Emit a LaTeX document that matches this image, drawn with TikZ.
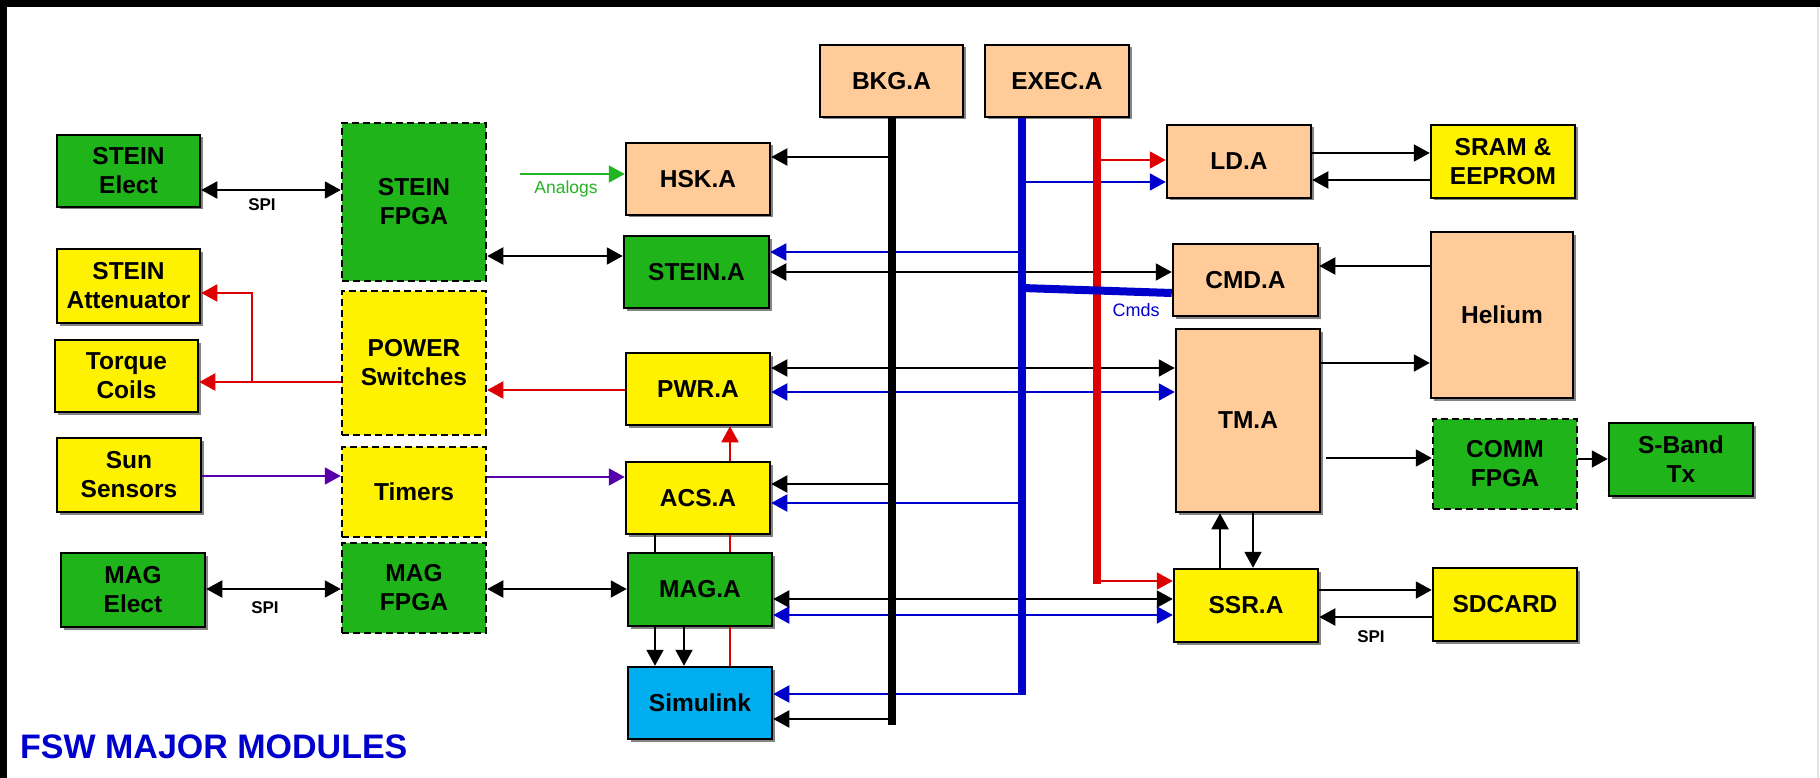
\documentclass[tikz,border=0pt]{standalone}
\usepackage{fontspec}
\setmainfont{Liberation Sans}
\usetikzlibrary{arrows.meta,shadows}
\definecolor{cgreen}{HTML}{1FB51A}
\definecolor{cyellow}{HTML}{FFF200}
\definecolor{cpeach}{HTML}{FFCC99}
\definecolor{ccyan}{HTML}{00ADEF}
\definecolor{cblue}{HTML}{0000CC}
\definecolor{cred}{HTML}{DD0000}
\definecolor{cpurple}{HTML}{5500AA}
\definecolor{agreen}{HTML}{22B422}
\begin{document}
\begin{tikzpicture}[x=1pt,y=-1pt,
  mod/.style={draw=black, line width=2.5pt, minimum width=144pt, minimum height=72pt, inner sep=0pt, align=center, font=\bfseries\fontsize{24.5}{29}\selectfont, text=black},
  sh/.style={drop shadow={shadow xshift=2.5pt, shadow yshift=-2.5pt, fill=black!60, opacity=0.8}},
  dsh/.style={dash pattern=on 7pt off 4pt},
  arr/.style={line width=2pt, -{Triangle[length=16pt,width=17pt]}},
  darr/.style={line width=2pt, {Triangle[length=16pt,width=17pt]}-{Triangle[length=16pt,width=17pt]}},
  plain/.style={line width=2pt},
  bus/.style={line width=8pt},
  lbl/.style={font=\bfseries\fontsize{17}{19}\selectfont, anchor=base}
]
\useasboundingbox (0,0) rectangle (1820,778);
\fill[white] (0,0) rectangle (1820,778);
\fill[black] (0,0) rectangle (1820,7);
\fill[black] (0,0) rectangle (7,778);
\draw[black!10, line width=1.5pt] (1818,7) -- (1818,778);

% left column
\node[mod, sh, fill=cgreen, minimum width=143pt] (steinelect) at (128.5,171) {STEIN\\Elect};
\node[mod, sh, fill=cyellow, minimum width=143pt, minimum height=74pt] (steinatt) at (128.5,286) {STEIN\\Attenuator};
\node[mod, sh, fill=cyellow, minimum width=143pt] (torque) at (126.5,376) {Torque\\Coils};
\node[mod, sh, fill=cyellow, minimum height=74pt] (sun) at (129,475) {Sun\\Sensors};
\node[mod, sh, fill=cgreen, minimum height=74pt] (magelect) at (133,590) {MAG\\Elect};

% FPGA column
\node[mod, dsh, fill=cgreen, minimum height=158pt] (steinfpga) at (414,202) {STEIN\\FPGA};
\node[mod, dsh, fill=cyellow, minimum height=144pt] (powersw) at (414,363) {POWER\\Switches};
\node[mod, dsh, fill=cyellow, minimum height=90pt] (timers) at (414,492) {Timers};
\node[mod, dsh, fill=cgreen, minimum height=90pt] (magfpga) at (414,588) {MAG\\FPGA};

% app column
\node[mod, sh, fill=cpeach] (hsk) at (698,179) {HSK.A};
\node[mod, sh, fill=cgreen, minimum width=145pt] (steina) at (696.5,272) {STEIN.A};
\node[mod, sh, fill=cyellow] (pwra) at (698,389) {PWR.A};
\node[mod, sh, fill=cyellow] (acsa) at (698,498) {ACS.A};
\node[mod, sh, fill=cgreen, minimum height=73pt] (maga) at (700,589.5) {MAG.A};
\node[mod, sh, fill=ccyan] (simulink) at (700,703) {Simulink};

% top
\node[mod, sh, fill=cpeach, minimum width=143pt] (bkga) at (891.5,81) {BKG.A};
\node[mod, sh, fill=cpeach] (execa) at (1057,81) {EXEC.A};

% right
\node[mod, sh, fill=cpeach, minimum height=73pt] (lda) at (1239,161.5) {LD.A};
\node[mod, sh, fill=cyellow, minimum height=73pt] (sram) at (1503,161.5) {SRAM \&\\EEPROM};
\node[mod, sh, fill=cpeach, minimum width=145pt] (cmda) at (1245.5,280) {CMD.A};
\node[mod, sh, fill=cpeach, minimum width=142pt, minimum height=166pt] (helium) at (1502,315) {Helium};
\node[mod, sh, fill=cpeach, minimum height=183pt] (tma) at (1248,420.5) {TM.A};
\node[mod, dsh, fill=cgreen, minimum height=90pt] (comm) at (1505,464) {COMM\\FPGA};
\node[mod, sh, fill=cgreen, minimum height=73pt] (sband) at (1681,459.5) {S-Band\\Tx};
\node[mod, sh, fill=cyellow, minimum height=73pt] (ssra) at (1246,605.5) {SSR.A};
\node[mod, sh, fill=cyellow, minimum height=73pt] (sdcard) at (1505,604.5) {SDCARD};

% bus coordinates
\coordinate (bkgend) at (bkga.south |- 0,725);
\coordinate (bluetop) at (1022,0 |- execa.south);
\coordinate (blueend) at (1022,695);
\coordinate (redtop) at (1097,0 |- execa.south);
\coordinate (redend) at (1097,584);
\coordinate (rsplit) at (252,382);
\coordinate (analogsrc) at (520,174);

% left side connectors
\draw[darr] (steinelect.east |- 0,190) -- (steinfpga.west |- 0,190);
\node[lbl] (spione) at (262,211) {SPI};
\draw[darr] (steinfpga.east |- 0,256) -- (steina.west |- 0,256);
\draw[arr, cred] (powersw.west |- 0,382) -- (torque.east |- 0,382);
\draw[arr, cred] (rsplit) -- (rsplit |- 0,293) -- (steinatt.east |- 0,293);
\draw[arr, cred] (pwra.west |- 0,390) -- (powersw.east |- 0,390);
\draw[arr, cpurple] (sun.east |- 0,476) -- (timers.west |- 0,476);
\draw[arr, cpurple] (timers.east |- 0,477) -- (acsa.west |- 0,477);
\draw[darr] (magelect.east |- 0,589) -- (magfpga.west |- 0,589);
\node[lbl] (spitwo) at (265,613) {SPI};
\draw[darr] (magfpga.east |- 0,589) -- (maga.west |- 0,589);
\draw[arr, agreen] (analogsrc) -- (hsk.west |- analogsrc);
\node[font=\fontsize{17.5}{19}\selectfont, text=agreen, anchor=base] (analogs) at (566,194) {Analogs};

% app column internal
\draw[plain, cred] (simulink.north -| 730,0) -- (maga.south -| 730,0);
\draw[plain, cred] (maga.north -| 730,0) -- (acsa.south -| 730,0);
\draw[arr, cred] (acsa.north -| 730,0) -- (pwra.south -| 730,0);
\draw[plain] (acsa.south -| 655,0) -- (maga.north -| 655,0);
\draw[arr] (maga.south -| 655,0) -- (simulink.north -| 655,0);
\draw[arr] (maga.south -| 684,0) -- (simulink.north -| 684,0);

% bus taps
\draw[arr] (bkgend |- 0,157) -- (hsk.east |- 0,157);
\draw[arr] (bkgend |- 0,484) -- (acsa.east |- 0,484);
\draw[arr] (bkgend |- 0,719) -- (simulink.east |- 0,719);
\draw[arr, cblue] (bluetop |- 0,182) -- (lda.west |- 0,182);
\draw[arr, cblue] (bluetop |- 0,252) -- (steina.east |- 0,252);
\draw[arr, cblue] (bluetop |- 0,503) -- (acsa.east |- 0,503);
\draw[arr, cblue] (blueend |- 0,694) -- (simulink.east |- 0,694);
\draw[arr, cred] (redtop |- 0,160) -- (lda.west |- 0,160);
\draw[arr, cred] (redend |- 0,581) -- (ssra.west |- 0,581);

% cross connections
\draw[darr] (steina.east |- 0,272) -- (cmda.west |- 0,272);
\draw[darr] (pwra.east |- 0,368) -- (tma.west |- 0,368);
\draw[darr, cblue] (pwra.east |- 0,392) -- (tma.west |- 0,392);
\draw[darr] (maga.east |- 0,599) -- (ssra.west |- 0,599);
\draw[darr, cblue] (maga.east |- 0,615) -- (ssra.west |- 0,615);

% buses
\draw[bus] (bkga.south) -- (bkgend);
\draw[bus, cblue] (bluetop) -- (blueend);
\draw[bus, cred] (redtop) -- (redend);
\draw[bus, cblue] (bluetop |- 0,288) -- (cmda.west |- 0,293);
\node[font=\fontsize{18}{20}\selectfont, text=cblue, anchor=base] (cmds) at (1136,316) {Cmds};

% right side
\draw[arr] (lda.east |- 0,153) -- (sram.west |- 0,153);
\draw[arr] (sram.west |- 0,180) -- (lda.east |- 0,180);
\draw[arr] (helium.west |- 0,266) -- (cmda.east |- 0,266);
\draw[arr] (tma.east |- 0,363) -- (helium.west |- 0,363);
\draw[arr] ([xshift=5pt]tma.east |- 0,458) -- (comm.west |- 0,458);
\draw[arr] (comm.east |- 0,459) -- (sband.west |- 0,459);
\draw[arr] (ssra.north -| 1220,0) -- (tma.south -| 1220,0);
\draw[arr] (tma.south -| 1253,0) -- (ssra.north -| 1253,0);
\draw[arr] (ssra.east |- 0,590) -- (sdcard.west |- 0,590);
\draw[arr] (sdcard.west |- 0,617) -- (ssra.east |- 0,617);
\node[lbl] (spithree) at (1371,642) {SPI};

% title
\node[font=\bfseries\fontsize{34}{36}\selectfont, text=cblue, anchor=base west, inner sep=0pt] (title) at (20,758) {FSW MAJOR MODULES};
\end{tikzpicture}
\end{document}
